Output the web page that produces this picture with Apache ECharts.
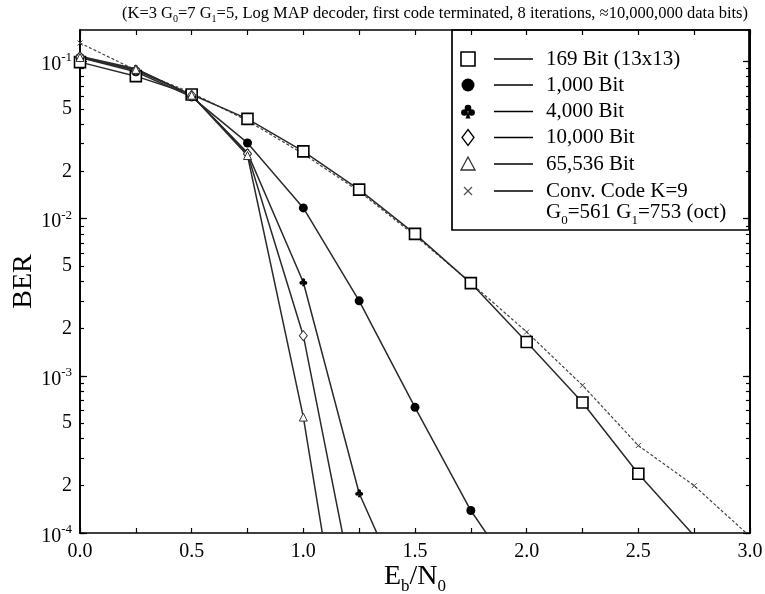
<!DOCTYPE html>
<html>
<head>
<meta charset="utf-8">
<script src="https://cdn.jsdelivr.net/npm/echarts@6/dist/echarts.min.js"></script>
<style>
html,body{margin:0;padding:0;background:#fff;}
#chart{width:765px;height:594px;}
</style>
</head>
<body>
<div id="chart"></div>
<script>
// Eb/N0 grid (dB) shared by all curves
const ebn0 = [0.0, 0.25, 0.5, 0.75, 1.0, 1.25, 1.5, 1.75, 2.0, 2.25, 2.5, 2.75, 3.0];

// Bit error rates per interleaver size
const ber169   = [0.099, 0.0806, 0.0616, 0.0431, 0.0268, 0.0153, 0.0080, 0.00389, 0.00164, 0.000676, 0.000238, 0.000096];
const ber1000  = [0.106, 0.086, 0.0595, 0.0303, 0.0117, 0.0030, 0.00063, 0.000139, 0.000042];
const ber4000  = [0.108, 0.090, 0.061, 0.0262, 0.00394, 0.000179, 0.0000284];
const ber10000 = [0.107, 0.088, 0.061, 0.0258, 0.0018, 0.000029];
const ber65536 = [0.106, 0.089, 0.061, 0.0252, 0.000546, 0.0000037];
const berConv  = [0.131, 0.088, 0.063, 0.042, 0.0258, 0.0149, 0.0078, 0.0039, 0.0019, 0.00087, 0.00036, 0.00020, 0.000095];

const seriesNames = ['169 Bit (13x13)', '1,000 Bit', '4,000 Bit', '10,000 Bit', '65,536 Bit', 'Conv. Code K=9'];
const convSecondLine = 'G{sub|0}=561 G{sub|1}=753 (oct)';
const titleText = '(K=3 G{sub|0}=7 G{sub|1}=5, Log MAP decoder, first code terminated, 8 iterations, \u224810,000,000 data bits)';

// Axis ticks / labels
const xTickStep = 0.5;
const yLabelValues = [1e-4, 2e-4, 5e-4, 1e-3, 2e-3, 5e-3, 1e-2, 2e-2, 5e-2, 1e-1];
const yMajorValues = [1e-4, 1e-3, 1e-2, 1e-1];
const yMinorValues = [];
[-4, -3, -2, -1].forEach(function (e) {
  for (let m = 1; m <= 9; m++) yMinorValues.push(m * Math.pow(10, e));
});

const SERIF = '"Liberation Serif", "DejaVu Serif", serif';
const LINE = '#2a2a2a';

const CLUB = 'path://M50,6a22,22 0 1,0 0.01,0z M26,38a22,22 0 1,0 0.01,0z M74,38a22,22 0 1,0 0.01,0z M50,55L34,100L66,100z';
const CROSS = 'path://M0,0L10,10M10,0L0,10';

function pairs(ys) { return ys.map(function (y, i) { return [ebn0[i], y]; }); }

function fmtY(v) {
  const e = Math.floor(Math.log10(v) + 1e-9);
  const m = Math.round(v / Math.pow(10, e));
  if (m === 1) return '{b|10}{s|' + e + '}';
  return '{n|' + m + '}';
}

function yAxisDef(pos, ticks, len, withLabel) {
  const ax = {
    type: 'log', logBase: 10, position: pos,
    min: 1e-4, max: Math.pow(10, -0.8),
    z: pos === 'right' ? 8 : 1,
    axisLine: { show: true, lineStyle: { color: '#000', width: 1.7 } },
    axisTick: { show: true, inside: true, length: len, customValues: ticks, lineStyle: { color: '#000', width: 1.2 } },
    axisLabel: { show: false },
    splitLine: { show: false },
    minorTick: { show: false }
  };
  if (withLabel) {
    ax.axisLabel = {
      show: true, customValues: yLabelValues, formatter: fmtY, margin: 8, color: '#000',
      rich: {
        n: { fontFamily: SERIF, fontSize: 20, color: '#000' },
        b: { fontFamily: SERIF, fontSize: 20, lineHeight: 20, padding: [7, 0, 0, 0], color: '#000' },
        s: { fontFamily: SERIF, fontSize: 13, lineHeight: 13, verticalAlign: 'top', color: '#000' }
      }
    };
    ax.name = 'BER';
    ax.nameLocation = 'middle';
    ax.nameGap = 42;
    ax.nameRotate = 90;
    ax.nameMoveOverlap = false;
    ax.nameTextStyle = { fontFamily: SERIF, fontSize: 28, color: '#000' };
  }
  return ax;
}

function xAxisDef(pos, withLabel) {
  const ax = {
    type: 'value', position: pos, min: 0, max: 3, interval: xTickStep,
    z: pos === 'top' ? 8 : 1,
    axisLine: { show: true, lineStyle: { color: '#000', width: 1.7 } },
    axisTick: { show: true, inside: true, length: 5, lineStyle: { color: '#000', width: 1.2 } },
    minorTick: { show: true, splitNumber: 2, length: 5, lineStyle: { color: '#000', width: 1.2 } },
    axisLabel: { show: false },
    splitLine: { show: false }
  };
  if (withLabel) {
    ax.axisLabel = {
      show: true, margin: 9, color: '#000', fontFamily: SERIF, fontSize: 20,
      formatter: function (v) { return v.toFixed(1); }
    };
    ax.name = 'E{sub|b}/N{sub|0}';
    ax.nameLocation = 'middle';
    ax.nameGap = 26;
    ax.nameMoveOverlap = false;
    ax.nameTextStyle = {
      fontFamily: SERIF, fontSize: 28, color: '#000', lineHeight: 36,
      rich: { sub: { fontFamily: SERIF, fontSize: 17, lineHeight: 36, verticalAlign: 'bottom', color: '#000' } }
    };
  }
  return ax;
}

function lineSeries(name, ys, symbol, size, itemStyle, lineStyle) {
  return {
    name: name, type: 'line', data: pairs(ys),
    xAxisIndex: 0, yAxisIndex: 0,
    symbol: symbol, symbolSize: size, showAllSymbol: true,
    clip: true, animation: false,
    lineStyle: Object.assign({ color: LINE, width: 1.5 }, lineStyle || {}),
    itemStyle: itemStyle
  };
}

// Legend block (marker, short line, label) drawn in the upper right corner
const lgX = 452, lgY = 30, lgW = 297, lgH = 200;
const rowY = [59, 85, 111.5, 137.5, 164, 191];
const mx = 468;
const cy = rowY[2];
const legendEls = [
  { type: 'rect', shape: { x: lgX, y: lgY, width: lgW, height: lgH }, style: { fill: '#fff', stroke: '#000', lineWidth: 1.7 } },
  { type: 'rect', shape: { x: mx - 7, y: rowY[0] - 7, width: 14, height: 14 }, style: { fill: '#fff', stroke: '#000', lineWidth: 1.6 } },
  { type: 'circle', shape: { cx: mx, cy: rowY[1], r: 6.5 }, style: { fill: '#000' } },
  // club: three lobes and a stem
  { type: 'circle', shape: { cx: mx, cy: cy - 3.5, r: 3.3 }, style: { fill: '#000' } },
  { type: 'circle', shape: { cx: mx - 3.6, cy: cy + 1, r: 3.3 }, style: { fill: '#000' } },
  { type: 'circle', shape: { cx: mx + 3.6, cy: cy + 1, r: 3.3 }, style: { fill: '#000' } },
  { type: 'polygon', shape: { points: [[mx, cy], [mx - 2.5, cy + 7], [mx + 2.5, cy + 7]] }, style: { fill: '#000' } },
  { type: 'polygon', shape: { points: [[mx, rowY[3] - 8], [mx + 6, rowY[3]], [mx, rowY[3] + 8], [mx - 6, rowY[3]]] }, style: { fill: '#fff', stroke: '#000', lineWidth: 1.3 } },
  { type: 'polygon', shape: { points: [[mx, rowY[4] - 7], [mx + 7, rowY[4] + 6], [mx - 7, rowY[4] + 6]] }, style: { fill: '#fff', stroke: '#333', lineWidth: 1.3 } },
  { type: 'line', shape: { x1: mx - 4, y1: rowY[5] - 4, x2: mx + 4, y2: rowY[5] + 4 }, style: { stroke: '#555', lineWidth: 1.2 } },
  { type: 'line', shape: { x1: mx + 4, y1: rowY[5] - 4, x2: mx - 4, y2: rowY[5] + 4 }, style: { stroke: '#555', lineWidth: 1.2 } }
];
rowY.forEach(function (y, i) {
  legendEls.push({ type: 'line', shape: { x1: 494, y1: y, x2: 533, y2: y }, style: { stroke: '#000', lineWidth: 1.5 } });
  legendEls.push({ type: 'text', x: 546, y: y, style: { text: seriesNames[i], fill: '#000', font: '21px ' + SERIF, textVerticalAlign: 'middle' } });
});
legendEls.push({
  type: 'text', x: 546, y: 212,
  style: {
    text: convSecondLine, fill: '#000', font: '21px ' + SERIF, textVerticalAlign: 'middle',
    rich: { sub: { font: '13px ' + SERIF, fill: '#000', verticalAlign: 'bottom', lineHeight: 30 } }
  }
});

const chart = echarts.init(document.getElementById('chart'), null, { renderer: 'canvas' });
chart.setOption({
  animation: false,
  backgroundColor: '#fff',
  grid: { left: 80, right: 15, top: 30, bottom: 61, containLabel: false, outerBoundsMode: 'none' },
  xAxis: [xAxisDef('bottom', true), xAxisDef('top', false)],
  yAxis: [
    yAxisDef('left', yMinorValues, 4, true),
    yAxisDef('left', yMajorValues, 7, false),
    yAxisDef('right', yMinorValues, 4, false),
    yAxisDef('right', yMajorValues, 7, false)
  ],
  graphic: [
    {
      type: 'text', x: 435, y: 14, z: 10,
      style: {
        text: titleText, fill: '#000', font: '16.5px ' + SERIF, textAlign: 'center', textVerticalAlign: 'middle',
        rich: { sub: { font: '10px ' + SERIF, fill: '#000', verticalAlign: 'bottom', lineHeight: 20 } }
      }
    },
    { type: 'group', z: 5, children: legendEls }
  ],
  series: [
    lineSeries(seriesNames[5], berConv, CROSS, 5, { color: 'none', borderColor: '#444', borderWidth: 1 }, { color: '#444', width: 1.2, type: [3, 2] }),
    lineSeries(seriesNames[0], ber169, 'rect', 11, { color: '#fff', borderColor: '#000', borderWidth: 1.6 }),
    lineSeries(seriesNames[1], ber1000, 'circle', 9, { color: '#000', borderWidth: 0 }),
    lineSeries(seriesNames[2], ber4000, CLUB, 8, { color: '#000', borderWidth: 0 }),
    lineSeries(seriesNames[3], ber10000, 'diamond', [8, 10], { color: '#fff', borderColor: '#333', borderWidth: 1 }),
    lineSeries(seriesNames[4], ber65536, 'triangle', 8, { color: '#fff', borderColor: '#333', borderWidth: 1 })
  ]
});
</script>
</body>
</html>
